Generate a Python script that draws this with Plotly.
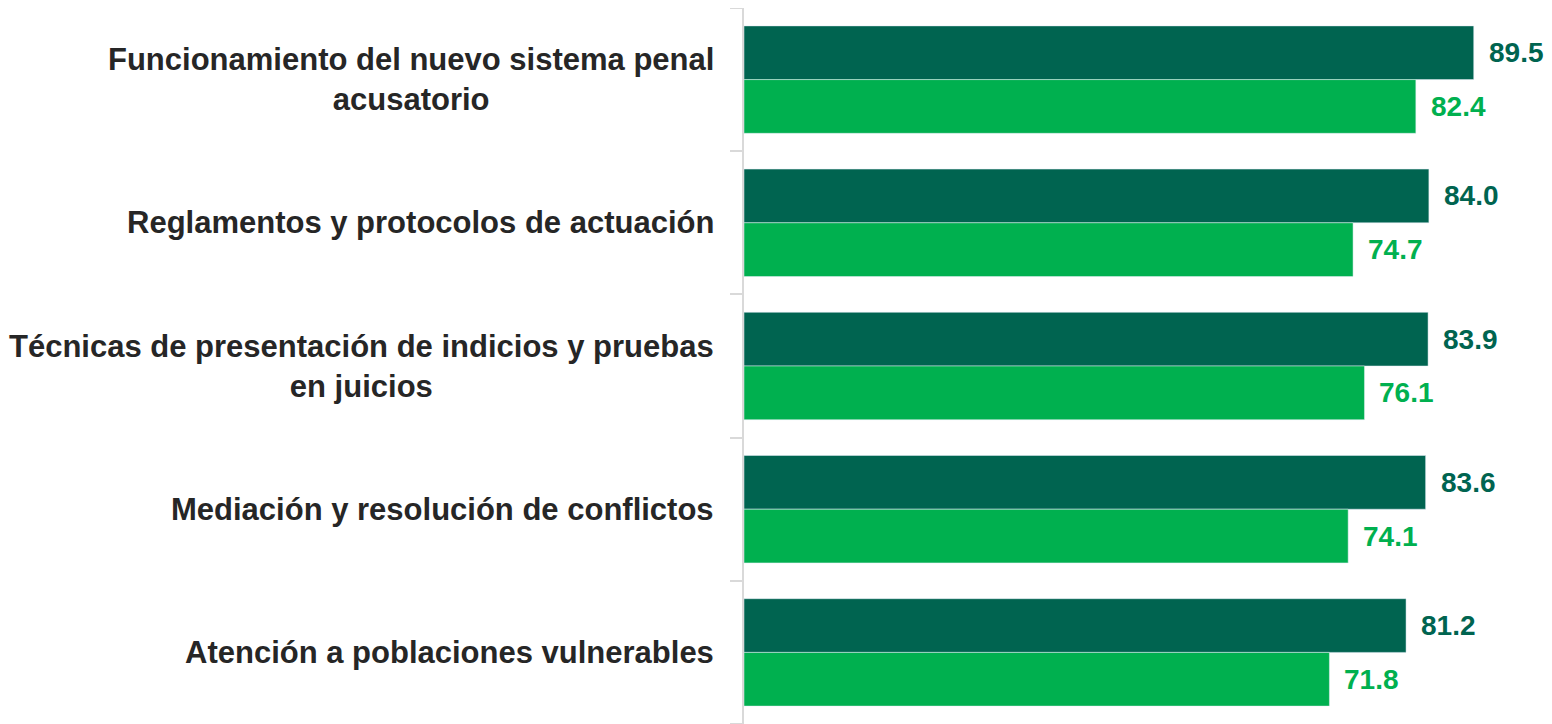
import plotly.graph_objects as go

# categories top to bottom
categories = [
    "Funcionamiento del nuevo sistema penal<br>acusatorio",
    "Reglamentos y protocolos de actuación",
    "Técnicas de presentación de indicios y pruebas<br>en juicios",
    "Mediación y resolución de conflictos",
    "Atención a poblaciones vulnerables",
]
serie_a = [89.5, 84.0, 83.9, 83.6, 81.2]
serie_b = [82.4, 74.7, 76.1, 74.1, 71.8]

dark_green = "#006450"
light_green = "#00B04F"
font_family = "Liberation Sans, Arial, sans-serif"

fig = go.Figure()
fig.add_trace(go.Bar(y=list(range(len(categories))), x=serie_a, orientation="h",
                     marker=dict(color=dark_green), name="A"))
fig.add_trace(go.Bar(y=list(range(len(categories))), x=serie_b, orientation="h",
                     marker=dict(color=light_green), name="B"))

bargap = 0.25
half = (1 - bargap) / 4  # centre offset of each bar in a two-bar group

annotations = []
for i, cat in enumerate(categories):
    # category label, centred lines, left of the axis
    annotations.append(dict(x=0, xref="paper", y=i, yref="y", text=f"<b>{cat}</b>", showarrow=False,
                            xanchor="right", yanchor="middle", align="center", xshift=-28,
                            font=dict(family=font_family, size=31, color="#262626")))
    annotations.append(dict(x=serie_a[i], y=i - half, text=f"<b>{serie_a[i]:.1f}</b>",
                            showarrow=False, xanchor="left", xshift=13,
                            font=dict(family=font_family, size=28, color=dark_green)))
    annotations.append(dict(x=serie_b[i], y=i + half, text=f"<b>{serie_b[i]:.1f}</b>",
                            showarrow=False, xanchor="left", xshift=13,
                            font=dict(family=font_family, size=28, color=light_green)))

# page body has an 8px margin, so the figure is sized to fit inside it
fig.update_layout(
    width=1544, height=716,
    margin=dict(l=736, r=0, t=0, b=0),
    barmode="group", bargap=bargap, bargroupgap=0,
    showlegend=False,
    plot_bgcolor="white", paper_bgcolor="white",
    annotations=annotations,
)
fig.update_xaxes(range=[0, 99.1], visible=False, showgrid=False, zeroline=False)
fig.update_yaxes(range=[len(categories) - 0.5, -0.5], showgrid=False, zeroline=False,
                 showticklabels=False, showline=True, linecolor="#d9d9d9", linewidth=2,
                 ticks="outside", ticklen=12, tickcolor="#d9d9d9", tickwidth=2,
                 tickmode="array", tickvals=[i - 0.5 for i in range(len(categories) + 1)])

fig.write_html("out.html")
